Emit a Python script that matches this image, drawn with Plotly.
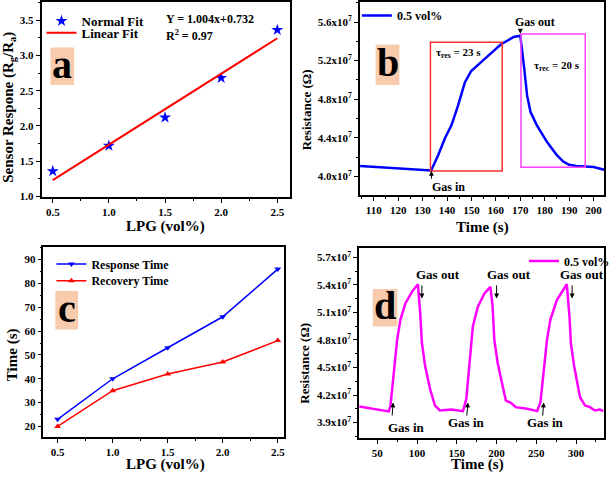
import plotly.graph_objects as go

W, H = 615, 481

# ---------------- data ----------------
# panel a
a_lpg = [0.5, 1.0, 1.5, 2.0, 2.5]
a_response = [1.36, 1.72, 2.12, 2.68, 3.36]
a_fit_x = [0.5, 2.5]
a_fit_y = [1.234, 3.242]

# panel b
b_time = [104.4, 112, 120, 128, 133.5, 136.4, 139.1, 141.8, 144.5, 147.3, 149.9, 155.2,
          162.0, 167.3, 170.0, 171.5, 172.8, 174.2, 176.8, 180.9, 184.9, 187.6, 190,
          193, 197, 200, 202, 204.3]
b_res = [4.109e7, 4.097e7, 4.085e7, 4.073e7, 4.062e7, 4.222e7, 4.393e7, 4.529e7, 4.734e7,
         4.974e7, 5.093e7, 5.213e7, 5.367e7, 5.446e7, 5.459e7, 5.145e7, 4.837e7, 4.667e7,
         4.529e7, 4.359e7, 4.222e7, 4.154e7, 4.12e7, 4.108e7, 4.103e7, 4.097e7, 4.085e7, 4.07e7]
b_ytick_vals = [4.0e7, 4.4e7, 4.8e7, 5.2e7, 5.6e7]
b_ytick_text = ["4.0x10<sup>7</sup>", "4.4x10<sup>7</sup>", "4.8x10<sup>7</sup>",
                "5.2x10<sup>7</sup>", "5.6x10<sup>7</sup>"]

# panel c
c_lpg = [0.5, 1.0, 1.5, 2.0, 2.5]
c_response_time = [23, 40, 53, 66, 86]
c_recovery_time = [20, 35, 42, 47, 56]

# panel d
d_time = [27.1, 45, 64.4, 66.5, 70.6, 74.9, 79.0, 85.2, 93.5, 101.0, 103.9, 106.0, 110.1,
          116.3, 122.5, 128.7, 143.3, 155.7, 157.7, 161.9, 166.0, 170.1, 176.4, 184.7,
          192.2, 195.0, 197.1, 201.3, 207.5, 211.7, 217.9, 224.1, 238.6, 251.0, 255.2,
          259.3, 263.4, 267.6, 275.8, 288.3, 291.7, 293.4, 297.5, 305.0, 311.2, 317.4,
          323.6, 329.9, 334.5]
d_res = [4.075e7, 4.05e7, 4.022e7, 4.086e7, 4.445e7, 4.804e7, 5.019e7, 5.198e7, 5.324e7,
         5.407e7, 5.09e7, 4.77e7, 4.517e7, 4.266e7, 4.086e7, 4.032e7, 4.043e7, 4.025e7,
         4.025e7, 4.158e7, 4.517e7, 4.947e7, 5.163e7, 5.306e7, 5.378e7, 5.163e7, 4.804e7,
         4.552e7, 4.302e7, 4.14e7, 4.115e7, 4.068e7, 4.051e7, 4.025e7, 4.122e7, 4.445e7,
         4.804e7, 5.019e7, 5.235e7, 5.407e7, 5.055e7, 4.768e7, 4.517e7, 4.176e7, 4.086e7,
         4.068e7, 4.032e7, 4.043e7, 4.025e7]
d_ytick_vals = [3.9e7, 4.2e7, 4.5e7, 4.8e7, 5.1e7, 5.4e7, 5.7e7]
d_ytick_text = ["3.9x10<sup>7</sup>", "4.2x10<sup>7</sup>", "4.5x10<sup>7</sup>",
                "4.8x10<sup>7</sup>", "5.1x10<sup>7</sup>", "5.4x10<sup>7</sup>",
                "5.7x10<sup>7</sup>"]
d_gas_out_t = [106, 200, 295]
d_gas_in_t = [69.9, 163.9, 259.3]

# ---------------- helpers ----------------
def px(x):
    return x / W

def py(y):
    return 1 - y / H

FONT = "Liberation Serif"
BLUE = "#0000FF"
RED = "#FF0000"
MAG = "#FF00FF"
PEACH = "#F8CBAD"

fig = go.Figure()

fig.add_trace(go.Scatter(x=a_lpg, y=a_response, mode="markers", name="Normal Fit",
                         marker=dict(symbol="star", size=9, color=BLUE),
                         xaxis="x", yaxis="y", legend="legend"))
fig.add_trace(go.Scatter(x=a_fit_x, y=a_fit_y, mode="lines", name="Linear Fit",
                         line=dict(color=RED, width=2),
                         xaxis="x", yaxis="y", legend="legend5"))
fig.add_trace(go.Scatter(x=b_time, y=b_res, mode="lines", name="0.5 vol%",
                         line=dict(color=BLUE, width=2.5),
                         xaxis="x2", yaxis="y2", legend="legend2"))
fig.add_trace(go.Scatter(x=c_lpg, y=c_response_time, mode="lines+markers", name="Response Time",
                         line=dict(color=BLUE, width=1.5),
                         marker=dict(symbol="triangle-down", size=6, color=BLUE),
                         xaxis="x3", yaxis="y3", legend="legend3"))
fig.add_trace(go.Scatter(x=c_lpg, y=c_recovery_time, mode="lines+markers", name="Recovery Time",
                         line=dict(color=RED, width=1.5),
                         marker=dict(symbol="triangle-up", size=6, color=RED),
                         xaxis="x3", yaxis="y3", legend="legend6"))
fig.add_trace(go.Scatter(x=d_time, y=d_res, mode="lines", name="0.5 vol%",
                         line=dict(color=MAG, width=2.5),
                         xaxis="x4", yaxis="y4", legend="legend4"))

axis_common = dict(showline=True, linecolor="black", linewidth=1.5, mirror=True,
                   ticks="outside", ticklen=4, tickwidth=1.2, tickcolor="black",
                   showgrid=False, zeroline=False,
                   tickfont=dict(family=FONT, size=11, color="black", weight="bold"))

def minor(dt, t0=None):
    d = dict(ticks="outside", ticklen=2, tickwidth=1, tickcolor="black", dtick=dt, showgrid=False)
    if t0 is not None:
        d["tick0"] = t0
    return d

layout = dict(
    width=W, height=H, margin=dict(l=0, r=0, t=0, b=0),
    paper_bgcolor="white", plot_bgcolor="white",
    font=dict(family=FONT, color="black", weight="bold"),
    xaxis=dict(domain=[px(42), px(293)], range=[0.40, 2.61], anchor="y",
               tickvals=[0.5, 1.0, 1.5, 2.0, 2.5], tickformat=".1f", minor=minor(0.25, 0.25), **axis_common),
    yaxis=dict(domain=[py(199), py(2)], range=[0.995, 3.756], anchor="x",
               tickvals=[1.0, 1.5, 2.0, 2.5, 3.0, 3.5], tickformat=".1f", minor=minor(0.25, 0.25), **axis_common),
    xaxis2=dict(domain=[px(364), px(611)], range=[104.3, 204.3], anchor="y2",
                dtick=10, tick0=100, minor=minor(5, 100), **axis_common),
    yaxis2=dict(domain=[py(197), py(2)], range=[3.808e7, 5.808e7], anchor="x2",
                tickvals=b_ytick_vals, ticktext=b_ytick_text, minor=minor(0.2e7, 4.0e7), **axis_common),
    xaxis3=dict(domain=[px(44), px(287)], range=[0.372, 2.554], anchor="y3",
                tickvals=[0.5, 1.0, 1.5, 2.0, 2.5], tickformat=".1f", minor=minor(0.25, 0.25), **axis_common),
    yaxis3=dict(domain=[py(442), py(250)], range=[15.4, 95.1], anchor="x3",
                dtick=10, tick0=0, minor=minor(5, 0), **axis_common),
    xaxis4=dict(domain=[px(363.3), px(610.7)], range=[27.1, 334.8], anchor="y4",
                dtick=50, tick0=0, minor=minor(25, 0), **axis_common),
    yaxis4=dict(domain=[py(443), py(251)], range=[3.728e7, 5.797e7], anchor="x4",
                tickvals=d_ytick_vals, ticktext=d_ytick_text, minor=minor(0.15e7, 3.9e7), **axis_common),
    showlegend=True,
)

leg_common = dict(xanchor="left", yanchor="top", bgcolor="rgba(0,0,0,0)", borderwidth=0,
                  tracegroupgap=0, itemwidth=30)
def lfont(s):
    return dict(size=s, family=FONT, weight="bold", color="black")
layout["legend"] = dict(x=px(42), y=py(6), font=lfont(13), **leg_common)
layout["legend5"] = dict(x=px(42), y=py(18), font=lfont(13), **leg_common)
layout["legend2"] = dict(x=px(361), y=py(1), font=lfont(12), **leg_common)
layout["legend3"] = dict(x=px(52), y=py(252), font=lfont(12), **leg_common)
layout["legend6"] = dict(x=px(52), y=py(269), font=lfont(12), **leg_common)
layout["legend4"] = dict(x=px(530), y=py(249), font=lfont(12), **leg_common)

fig.update_layout(**layout)

ann = []
def txt(x, y, text, size, angle=0, xanchor="center", yanchor="middle"):
    ann.append(dict(x=px(x), y=py(y), xref="paper", yref="paper", text=text, showarrow=False,
                    textangle=angle, xanchor=xanchor, yanchor=yanchor,
                    font=dict(family=FONT, size=size, color="black", weight="bold")))

# axis titles
txt(9, 108, "Sensor Respone (R<sub>g</sub>/R<sub>a</sub>)", 15, angle=-90)
txt(167, 229, "LPG (vol%)", 15)
txt(310, 111, "Resistance (Ω)", 13, angle=-90)
txt(488, 230, "Time (s)", 15)
txt(12, 358, "Time (s)", 15, angle=-90)
txt(167, 480, "LPG (vol%)", 15, yanchor="bottom")
txt(308, 367, "Resistance (Ω)", 13, angle=-90)
txt(483, 480, "Time (s)", 15, yanchor="bottom")

# panel a equation
txt(166, 19, "Y = 1.004x+0.732", 12, xanchor="left")
txt(166, 36, "R<sup>2</sup> = 0.97", 12, xanchor="left")

# panel label boxes
shapes = []
for (x0, y0, x1, y1, letter) in [(51, 48, 75, 86, "a"), (380, 45, 404, 86, "b"),
                                 (56, 294, 79, 333, "c"), (377, 292, 402, 330, "d")]:
    shapes.append(dict(type="rect", xref="paper", yref="paper", x0=px(x0), x1=px(x1),
                       y0=py(y1), y1=py(y0), fillcolor=PEACH, line=dict(width=0), layer="below"))
    txt((x0 + x1) / 2, (y0 + y1) / 2 - 2, letter, 40)

# panel b boxes
shapes.append(dict(type="rect", xref="x2", yref="y2", x0=133.2, x1=162.6, y0=4.057e7, y1=5.391e7,
                   line=dict(color="#FF3030", width=1.5)))
shapes.append(dict(type="rect", xref="x2", yref="y2", x0=170.3, x1=196.6, y0=4.095e7, y1=5.477e7,
                   line=dict(color="#FF40FF", width=1.5)))

def dtxt(xr, yr, x, y, text, size, xanchor="center"):
    ann.append(dict(x=x, y=y, xref=xr, yref=yr, text=text, showarrow=False, xanchor=xanchor,
                    yanchor="middle", font=dict(family=FONT, size=size, color="black", weight="bold")))

def arrow(xr, yr, x, y, ax, ay):
    ann.append(dict(x=x, y=y, xref=xr, yref=yr, ax=ax, ay=ay, axref=xr, ayref=yr, text="",
                    showarrow=True, arrowhead=2, arrowsize=1, arrowwidth=1, arrowcolor="black"))

dtxt("x2", "y2", 134.6, 5.275e7, "τ<sub>res</sub> = 23 s", 11, xanchor="left")
dtxt("x2", "y2", 175.0, 5.142e7, "τ<sub>rec</sub> = 20 s", 11, xanchor="left")
dtxt("x2", "y2", 175.9, 5.596e7, "Gas out", 12)
dtxt("x2", "y2", 140.8, 3.89e7, "Gas in", 12)
arrow("x2", "y2", 170.0, 5.48e7, 170.0, 5.54e7)
arrow("x2", "y2", 133.6, 4.06e7, 133.6, 3.96e7)

d_out_text_t = [126.6, 215.8, 307.0]
for t in d_out_text_t:
    dtxt("x4", "y4", t, 5.513e7, "Gas out", 13)
for t in d_gas_out_t:
    arrow("x4", "y4", t, 5.25e7, t, 5.41e7)
d_in_text = [(86.1, 3.842e7), (162.3, 3.9e7), (261.8, 3.9e7)]
for t, v in d_in_text:
    dtxt("x4", "y4", t, v, "Gas in", 13)
for t in d_gas_in_t:
    arrow("x4", "y4", t, 4.12e7, t - 1.5, 3.96e7)

fig.update_layout(annotations=ann, shapes=shapes)
fig.write_html("out.html", config={"displayModeBar": False},
               post_script="document.body.style.margin='0';document.body.style.overflow='hidden';")
